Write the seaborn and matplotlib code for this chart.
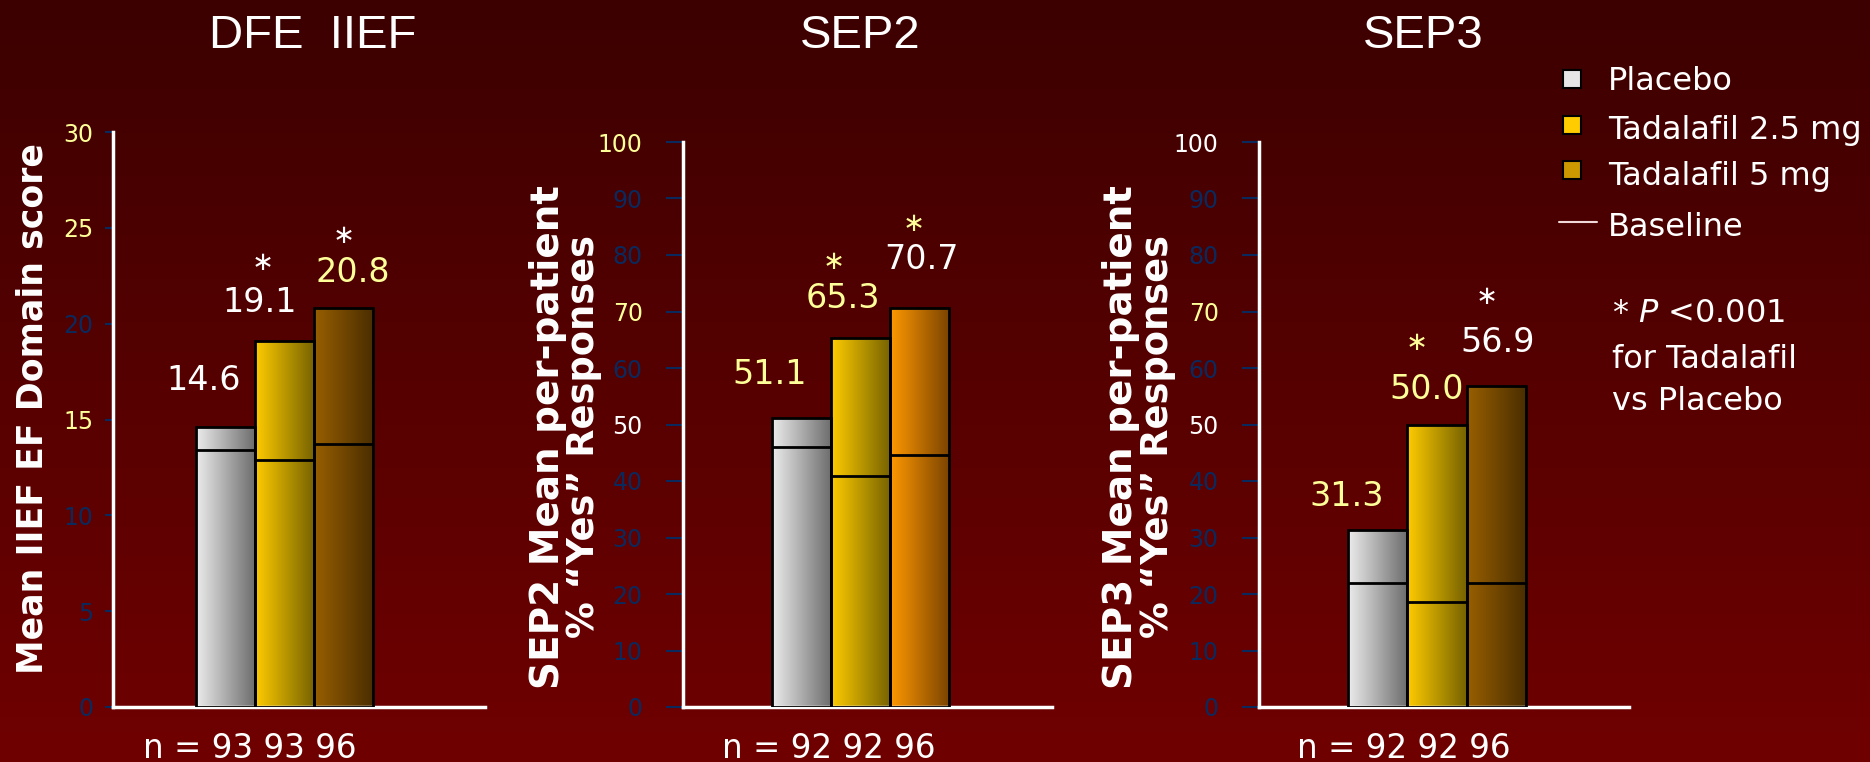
import numpy as np
import pandas as pd
import seaborn as sns
import matplotlib
matplotlib.use('Agg')
import matplotlib.pyplot as plt
from matplotlib.colors import LinearSegmentedColormap
from matplotlib.patches import Rectangle
from matplotlib.lines import Line2D

# 데이터
groups = ['Placebo', 'Tadalafil 2.5 mg', 'Tadalafil 5 mg']
iief_mean = [14.6, 19.1, 20.8]
iief_base = [13.4, 12.9, 13.7]
sep2_mean = [51.1, 65.3, 70.7]
sep2_base = [46.0, 40.9, 44.6]
sep3_mean = [31.3, 50.0, 56.9]
sep3_base = [21.9, 18.6, 21.9]
n_iief = [93, 93, 96]
n_sep2 = [92, 92, 96]
n_sep3 = [92, 92, 96]
signif = [False, True, True]
titles = ['DFE  IIEF', 'SEP2', 'SEP3']

sns.set_theme(style='white')
plt.rcParams['font.family'] = ['DejaVu Sans']
plt.rcParams['axes.unicode_minus'] = False

W, H = 1870, 762
fig = plt.figure(figsize=(W / 100, H / 100), dpi=100)

def fx(px):
    return px / W

def fy(py):
    return 1 - py / H

YEL = '#ffff99'
BLU = '#0a2a5e'
WHT = 'white'

# 배경 그라데이션
bg = fig.add_axes([0, 0, 1, 1], zorder=-5)
bg_cmap = LinearSegmentedColormap.from_list('bg', ['#3c0000', '#700000'])
bg.imshow(np.linspace(0, 1, 256).reshape(-1, 1), aspect='auto', cmap=bg_cmap, extent=[0, 1, 0, 1])
bg.axis('off')

# 패널 설정 (위치/스타일)
panels = [
    dict(mean=iief_mean, base=iief_base, n=n_iief, ymax=30, step=5,
         box=(113, 485, 132), xlim=(-1.907, 4.398),
         grad=[('#ececec', '#6c6c6c'), ('#ffcc00', '#766200'), ('#985f00', '#4a2d00')],
         tickcol=[BLU, BLU, BLU, YEL, BLU, YEL, YEL], ticklen=6, pad=8,
         labcol=[WHT, WHT, YEL], starcol=[WHT, WHT, WHT],
         laboff=[(-22, 47), (-25, 38), (9, 36)], staroff=[None, (-23, 78), (-1, 72)],
         ncx=250),
    dict(mean=sep2_mean, base=sep2_base, n=n_sep2, ymax=100, step=10,
         box=(683, 1052, 142), xlim=(-2.008, 4.246),
         grad=[('#ececec', '#6c6c6c'), ('#ffcc00', '#766200'), ('#ff9900', '#7a4300')],
         tickcol=[BLU] * 5 + [WHT, BLU, YEL, BLU, BLU, YEL], ticklen=12, pad=17,
         labcol=[YEL, YEL, WHT], starcol=[YEL, YEL, YEL],
         laboff=[(-32, 44), (-18, 40), (2, 48)], staroff=[None, (-28, 76), (-7, 84)],
         ncx=829),
    dict(mean=sep3_mean, base=sep3_base, n=n_sep3, ymax=100, step=10,
         box=(1259, 1629, 142), xlim=(-2.0, 4.236),
         grad=[('#ececec', '#6c6c6c'), ('#ffcc00', '#766200'), ('#985f00', '#4a2d00')],
         tickcol=[BLU] * 5 + [WHT, BLU, YEL, BLU, BLU, WHT], ticklen=12, pad=17,
         labcol=[YEL, YEL, WHT], starcol=[YEL, YEL, WHT],
         laboff=[(-31, 34), (-10, 35), (1, 43)], staroff=[None, (-22, 82), (-11, 89)],
         ncx=1404),
]

for k, p in enumerate(panels):
    x0, x1, ytop = p['box']
    ax = fig.add_axes([fx(x0), fy(707), fx(x1 - x0), (707 - ytop) / H])
    ax.set_facecolor('none')

    df = pd.DataFrame({'group': groups, 'value': p['mean']})
    sns.barplot(data=df, x='group', y='value', hue='group', order=groups, hue_order=groups,
                palette=[c[0] for c in p['grad']], width=1, edgecolor='black', linewidth=2,
                errorbar=None, legend=False, ax=ax)

    # 막대 가로 그라데이션
    for i, patch in enumerate(ax.patches):
        bx, bw, bh = patch.get_x(), patch.get_width(), patch.get_height()
        cm = LinearSegmentedColormap.from_list('g%d' % i, list(p['grad'][i]))
        im = ax.imshow(np.linspace(0, 1, 128).reshape(1, -1), aspect='auto', cmap=cm,
                       extent=[bx, bx + bw, 0, bh], zorder=patch.get_zorder() - 0.05)
        im.set_clip_path(patch)
        patch.set_facecolor('none')
        patch.set_zorder(3)

    # baseline 선
    for i, b in enumerate(p['base']):
        ax.plot([i - 0.5, i + 0.5], [b, b], color='black', lw=2, zorder=4)

    # 값 라벨, 별표
    for i, v in enumerate(p['mean']):
        dx, dy = p['laboff'][i]
        ax.annotate('%.1f' % v, xy=(i, v), xytext=(dx, dy), textcoords='offset pixels',
                    ha='center', va='center', fontsize=24, color=p['labcol'][i])
        if signif[i]:
            sx, sy = p['staroff'][i]
            ax.annotate(r'$\ast$', xy=(i, v), xytext=(sx, sy), textcoords='offset pixels',
                        ha='center', va='center', fontsize=19, color=p['starcol'][i])

    ax.set_xlim(*p['xlim'])
    ax.set_ylim(0, p['ymax'])
    ticks = list(range(0, p['ymax'] + 1, p['step']))
    ax.set_yticks(ticks)
    ax.set_yticklabels([str(t) for t in ticks], fontsize=17)
    for lab, c in zip(ax.get_yticklabels(), p['tickcol']):
        lab.set_color(c)
    ax.tick_params(axis='y', left=True, length=p['ticklen'], width=1.5, color=BLU, pad=p['pad'])
    ax.set_xticks([])
    ax.set_xlabel('')
    ax.set_ylabel('')
    for s in ['top', 'right']:
        ax.spines[s].set_visible(False)
    for s in ['left', 'bottom']:
        ax.spines[s].set_color('white')
        ax.spines[s].set_linewidth(2.5)

    ncx = p['ncx']
    fig.text(fx(ncx), fy(758), 'n = ' + ' '.join(str(n) for n in p['n']),
             ha='center', va='baseline', fontsize=23.5, color='white')

# 제목
for t, cx in zip(titles, [313, 860, 1423]):
    fig.text(fx(cx), fy(36), t, ha='center', va='center', fontsize=34,
             color='white', family='Liberation Sans')

# y축 제목
fig.text(fx(33), fy(409), 'Mean IIEF EF Domain score', rotation=90, ha='center', va='center',
         fontsize=25, fontweight='bold', color='white')
for xa, xb, name in [(548, 584, 'SEP2'), (1121, 1157, 'SEP3')]:
    fig.text(fx(xa), fy(437), name + ' Mean per-patient', rotation=90, ha='center', va='center',
             fontsize=28, fontweight='bold', color='white')
    fig.text(fx(xb), fy(437), '% \u201cYes\u201d Responses', rotation=90, ha='center', va='center',
             fontsize=26.5, fontweight='bold', color='white')

# 범례
leg_cols = ['#e6e6e6', '#ffcc00', '#cc9900']
for c, cy in zip(leg_cols, [79, 125, 170]):
    fig.patches.append(Rectangle((fx(1563), fy(cy + 9)), fx(18), 18 / H, facecolor=c,
                                 edgecolor='black', lw=1.5, transform=fig.transFigure))
fig.lines.append(Line2D([fx(1559), fx(1597)], [fy(222), fy(222)], color='#f0d8d8', lw=1.5,
                        transform=fig.transFigure))
for t, cy in zip(groups + ['Baseline'], [82, 130, 177, 227]):
    fig.text(fx(1608), fy(cy), t, ha='left', va='center', fontsize=23, color='white')

fig.text(fx(1612), fy(314), '* $\\it{P}$ <0.001', ha='left', va='center', fontsize=23, color='white')
fig.text(fx(1612), fy(359), 'for Tadalafil', ha='left', va='center', fontsize=23, color='white')
fig.text(fx(1612), fy(402), 'vs Placebo', ha='left', va='center', fontsize=23, color='white')

fig.savefig('out.png', dpi=100)
